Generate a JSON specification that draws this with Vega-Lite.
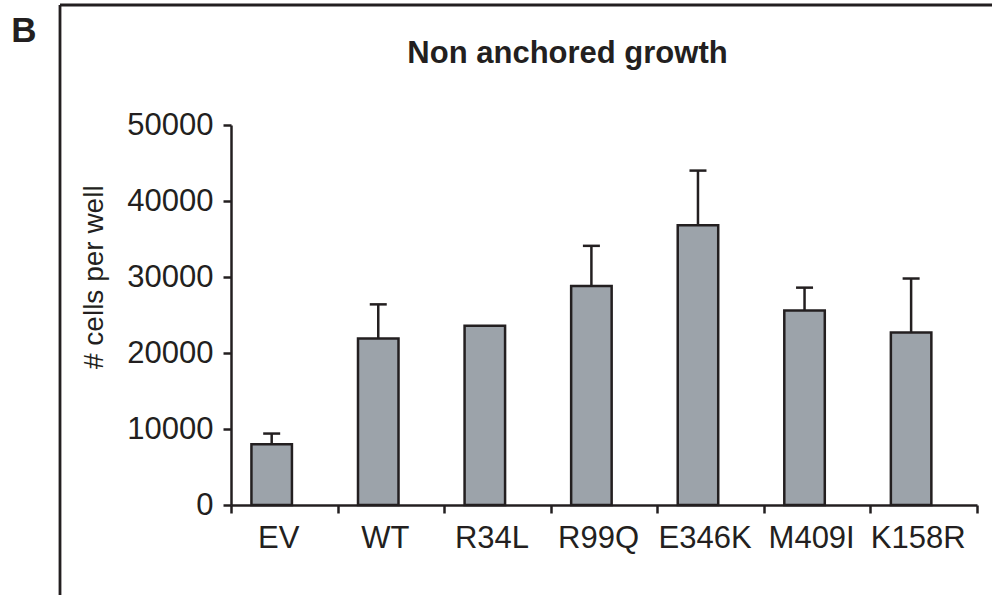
{
  "$schema": "https://vega.github.io/schema/vega-lite/v6.json",
  "width": 932,
  "height": 590,
  "autosize": "none",
  "padding": {"left": 60, "top": 5, "right": 0, "bottom": 0},
  "background": "white",
  "config": {
    "view": {"stroke": null},
    "font": "Liberation Sans"
  },
  "title": {
    "text": "Non anchored growth",
    "frame": "group",
    "anchor": "middle",
    "orient": "top",
    "baseline": "alphabetic",
    "offset": -58.5,
    "dx": 41.5,
    "dy": 32,
    "fontSize": 31,
    "fontWeight": "bold",
    "font": "Liberation Sans",
    "color": "#231f20"
  },
  "datasets": {
    "growth": [
      {"mutant": "EV", "cells": 8000, "upper": 9400},
      {"mutant": "WT", "cells": 21900, "upper": 26400},
      {"mutant": "R34L", "cells": 23600, "upper": null},
      {"mutant": "R99Q", "cells": 28800, "upper": 34100},
      {"mutant": "E346K", "cells": 36800, "upper": 44000},
      {"mutant": "M409I", "cells": 25600, "upper": 28600},
      {"mutant": "K158R", "cells": 22700, "upper": 29800}
    ],
    "frame": [{"a": 0, "b": 1}]
  },
  "layer": [
    {
      "data": {"name": "frame"},
      "layer": [
        {
          "mark": {"type": "rule", "color": "#231f20", "strokeWidth": 2.8},
          "encoding": {
            "x": {"field": "a", "type": "quantitative", "scale": {"domain": [0, 1], "nice": false}, "axis": null},
            "y": {"field": "a", "type": "quantitative", "scale": {"domain": [0, 1], "nice": false},
              "axis": {"orient": "left", "domain": false, "ticks": false, "labels": false, "grid": false,
                "title": "B", "titleAngle": 0, "titleFontSize": 35, "titleFontWeight": "bold", "titleFont": "Liberation Sans",
                "titleColor": "#231f20", "titleAlign": "center", "titleBaseline": "alphabetic", "titleX": -36.5, "titleY": 36.5}},
            "y2": {"field": "b"}
          }
        },
        {
          "mark": {"type": "rule", "color": "#231f20", "strokeWidth": 2.8},
          "encoding": {
            "x": {"field": "a", "type": "quantitative"},
            "x2": {"field": "b"},
            "y": {"field": "b", "type": "quantitative"}
          }
        }
      ]
    },
    {
      "data": {"name": "growth"},
      "layer": [
        {
          "mark": {"type": "bar", "fill": "#9ca3aa", "stroke": "#231f20", "strokeWidth": 2.5, "width": {"band": 0.38}, "xOffset": -12.6},
          "encoding": {
            "x": {
              "field": "mutant", "type": "nominal", "sort": null,
              "scale": {"range": [171, 917], "paddingInner": 0, "paddingOuter": 0},
              "axis": {
                "orient": "bottom", "offset": -90, "title": null, "tickBand": "extent",
                "domainColor": "#231f20", "domainWidth": 2.5, "tickColor": "#231f20", "tickWidth": 2.5, "tickSize": 8,
                "labelFontSize": 31, "labelFont": "Liberation Sans", "labelColor": "#231f20", "labelPadding": 10,
                "labelOffset": -6, "labelAngle": 0, "grid": false
              }
            },
            "y": {
              "field": "cells", "type": "quantitative",
              "scale": {"domain": [0, 50000], "range": [500, 120], "nice": false},
              "axis": {
                "orient": "left", "offset": -171, "values": [0, 10000, 20000, 30000, 40000, 50000], "format": "d",
                "domainColor": "#231f20", "domainWidth": 2.5, "tickColor": "#231f20", "tickWidth": 2.5, "tickSize": 8,
                "labelFontSize": 31, "labelFont": "Liberation Sans", "labelColor": "#231f20", "labelPadding": 10,
                "grid": false,
                "title": "# cells per well", "titleFontSize": 28, "titleFontWeight": "normal", "titleFont": "Liberation Sans",
                "titleColor": "#231f20", "titleAngle": -90, "titleAlign": "center", "titleBaseline": "alphabetic",
                "titleX": -129, "titleY": 271.7
              }
            }
          }
        },
        {
          "transform": [{"filter": "datum.upper != null"}],
          "mark": {"type": "rule", "color": "#231f20", "strokeWidth": 2.5, "xOffset": -12.6},
          "encoding": {
            "x": {"field": "mutant", "type": "nominal", "sort": null},
            "y": {"field": "cells", "type": "quantitative"},
            "y2": {"field": "upper"}
          }
        },
        {
          "transform": [{"filter": "datum.upper != null"}],
          "mark": {"type": "tick", "color": "#231f20", "size": 17, "thickness": 2.5, "xOffset": -12.6, "opacity": 1},
          "encoding": {
            "x": {"field": "mutant", "type": "nominal", "sort": null},
            "y": {"field": "upper", "type": "quantitative"}
          }
        }
      ]
    }
  ],
  "resolve": {"scale": {"x": "independent", "y": "independent"}, "axis": {"x": "independent", "y": "independent"}}
}
